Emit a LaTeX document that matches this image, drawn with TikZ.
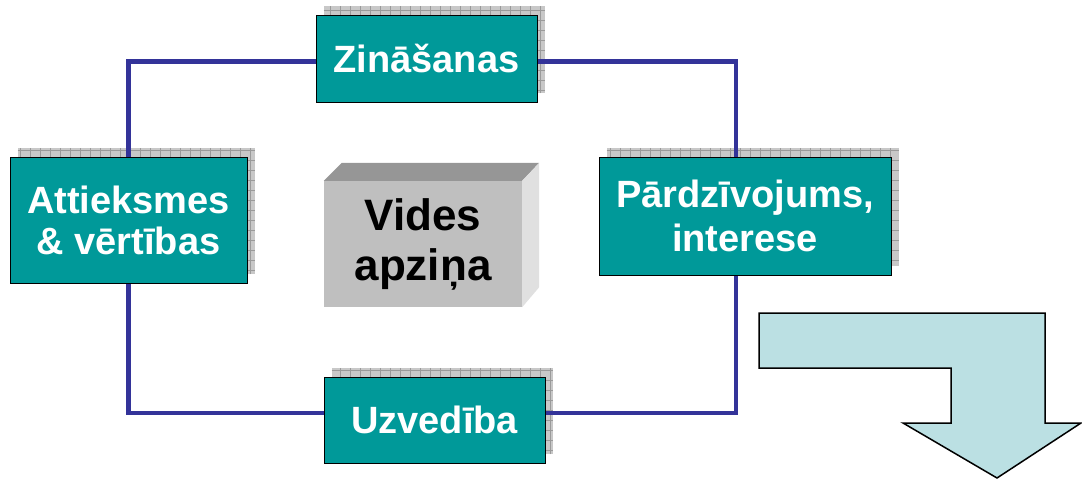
\documentclass[tikz,border=0pt]{standalone}
\usepackage{fontspec}
\setmainfont{Liberation Sans}
\usetikzlibrary{calc}
\pgfdeclarelayer{bg}
\pgfdeclarelayer{lines}
\pgfsetlayers{bg,lines,main}
\definecolor{tealbox}{HTML}{009999}
\definecolor{conncol}{HTML}{333399}
\definecolor{arrowfill}{HTML}{BBE0E3}
\definecolor{shadowfill}{HTML}{C8C8C8}
\definecolor{shadowgrid}{HTML}{9A9A9A}
\newcommand\boxshadow[1]{%
  \begin{scope}
    \clip ([shift={(8pt,9pt)}]#1.south west) rectangle ([shift={(8pt,9pt)}]#1.north east);
    \fill[shadowfill] ([shift={(8pt,9pt)}]#1.south west) rectangle ([shift={(8pt,9pt)}]#1.north east);
    \draw[shadowgrid, line width=0.5pt, step=10pt] ([shift={(8pt,9pt)}]#1.south west) grid ([shift={(8pt,9pt)}]#1.north east);
  \end{scope}}
\begin{document}
\begin{tikzpicture}[x=1pt,y=-1pt,
  tbox/.style={draw=black, line width=0.9pt, fill=tealbox, text=white,
    font=\fontsize{38}{42}\selectfont\bfseries, align=center, inner sep=0pt},
  conn/.style={draw=conncol, line width=4.5pt},
  cubefront/.style={fill=black!25, text=black, font=\fontsize{44}{50}\selectfont\bfseries,
    align=center, inner sep=0pt},
  arrowshape/.style={draw=black, line width=1.5pt, fill=arrowfill, line join=miter}
]
\useasboundingbox (0,0) rectangle (1082,481);

\node[tbox, minimum width=221pt, minimum height=87pt] (zin) at (426.5,58.5) {Zināšanas};
\node[tbox, minimum width=237pt, minimum height=126pt, font=\fontsize{38}{41}\selectfont\bfseries] (att) at (128.5,220) {Attieksmes\\\& vērtības};
\node[tbox, minimum width=292pt, minimum height=118pt, font=\fontsize{38}{44}\selectfont\bfseries] (par) at (745,216) {Pārdzīvojums,\\interese};
\node[tbox, minimum width=221pt, minimum height=86pt] (uzv) at (434.5,420) {Uzvedība};

\node[cubefront, minimum width=198pt, minimum height=126pt] (vid) at (423,244) {Vides\\apziņa};
\fill[black!41] (vid.north west) -- (vid.north east) -- ([shift={(17pt,18pt)}]vid.north east) -- ([shift={(18pt,18pt)}]vid.north west) -- cycle;
\fill[black!12] (vid.north east) -- ([shift={(17pt,18pt)}]vid.north east) -- ([shift={(17pt,20pt)}]vid.south east) -- (vid.south east) -- cycle;

\begin{pgfonlayer}{bg}
  \boxshadow{zin}
  \boxshadow{att}
  \boxshadow{par}
  \boxshadow{uzv}
\end{pgfonlayer}

\begin{pgfonlayer}{lines}
  \draw[conn] ([yshift=-3pt]zin.west) -| (att.north);
  \draw[conn] ([yshift=-3pt]zin.east) -| ([xshift=-9pt]par.north);
  \draw[conn] ([xshift=-9pt]par.south) |- ([yshift=7pt]uzv.east);
  \draw[conn] ([yshift=7pt]uzv.west) -| (att.south);
\end{pgfonlayer}

\draw[arrowshape] (759,313) -- (1045,313) -- (1045,423) -- (1081,423) -- (997,478) -- (903,423) -- (951,423) -- (951,368) -- (759,368) -- cycle;
\end{tikzpicture}
\end{document}
